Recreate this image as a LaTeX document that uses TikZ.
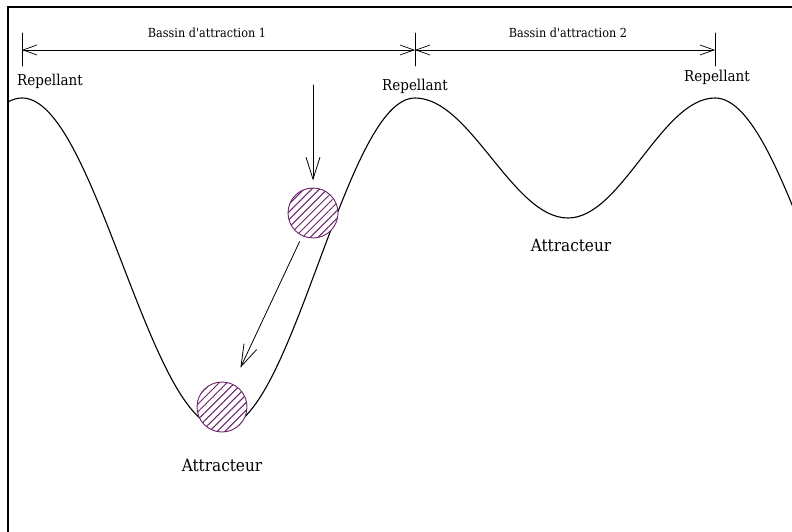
\documentclass[tikz,border=0pt]{standalone}
\usepackage{fontspec}
\setmainfont{DejaVu Serif Condensed}
\usepackage{tikz}
\usetikzlibrary{arrows.meta,patterns.meta}
\definecolor{ballpurple}{RGB}{105,35,105}

\begin{document}
\begin{tikzpicture}[x=1pt,y=-1pt,line cap=round,
   dim/.style={line width=0.7pt,arrows={Straight Barb[length=14pt,width=10pt]-Straight Barb[length=14pt,width=10pt]}},
   fall/.style={line width=0.8pt,-{Straight Barb[length=22pt,width=14pt]}},
   ball/.style={circle,draw=ballpurple,line width=0.9pt,minimum size=50pt,inner sep=0pt,
      preaction={fill=white},pattern={Lines[angle=45,distance=5.5pt,line width=1pt]},pattern color=ballpurple},
   bas/.style={font=\fontsize{12.5}{14}\selectfont},
   rep/.style={font=\fontsize{15}{17}\selectfont},
   att/.style={font=\fontsize{17}{19}\selectfont}]
  \useasboundingbox (0,0) rectangle (792,532);
  % frame (only top and left edges show)
  \draw[line width=1.2pt] (8,532) -- (8,7) -- (792,7);
  % potential curve
  \begin{scope}
    \clip (8,7) rectangle (792,532);
    \draw[line width=1.1pt] (-78,263) sin (22,98) cos (122,263) sin (222,428) cos (318.5,263)
      sin (415,98) cos (491.5,158) sin (568,218) cos (641.5,158) sin (715,98) cos (815,263);
  \end{scope}
  % basin widths
  \coordinate (t1) at (22,50);
  \coordinate (t2) at (415,50);
  \coordinate (t3) at (715,50);
  \foreach \t in {t1,t2,t3} \draw[line width=0.9pt] ([yshift=17pt]\t) -- ([yshift=-16pt]\t);
  \draw[dim] (t1) -- (t2);
  \draw[dim] (t2) -- (t3);
  \node[bas] (bas1) at (207,33) {Bassin d\textquotesingle attraction 1};
  \node[bas] (bas2) at (568,33) {Bassin d\textquotesingle attraction 2};
  % repellers and attractors
  \node[rep] (rep1) at (50,81) {Repellant};
  \node[rep] (rep2) at (415,86) {Repellant};
  \node[rep] (rep3) at (717,77) {Repellant};
  \node[att] (att1) at (222,465) {Attracteur};
  \node[att] (att2) at (571,245) {Attracteur};
  % rolling ball
  \node[ball] (b1) at (313,213) {};
  \node[ball] (b2) at (222,407) {};
  \coordinate (drop) at (313,85);
  \draw[fall,shorten >=7pt] (drop) -- (b1.north);
  \draw[fall,shorten <=6pt,shorten >=18pt] (b1) -- (b2);
\end{tikzpicture}
\end{document}
